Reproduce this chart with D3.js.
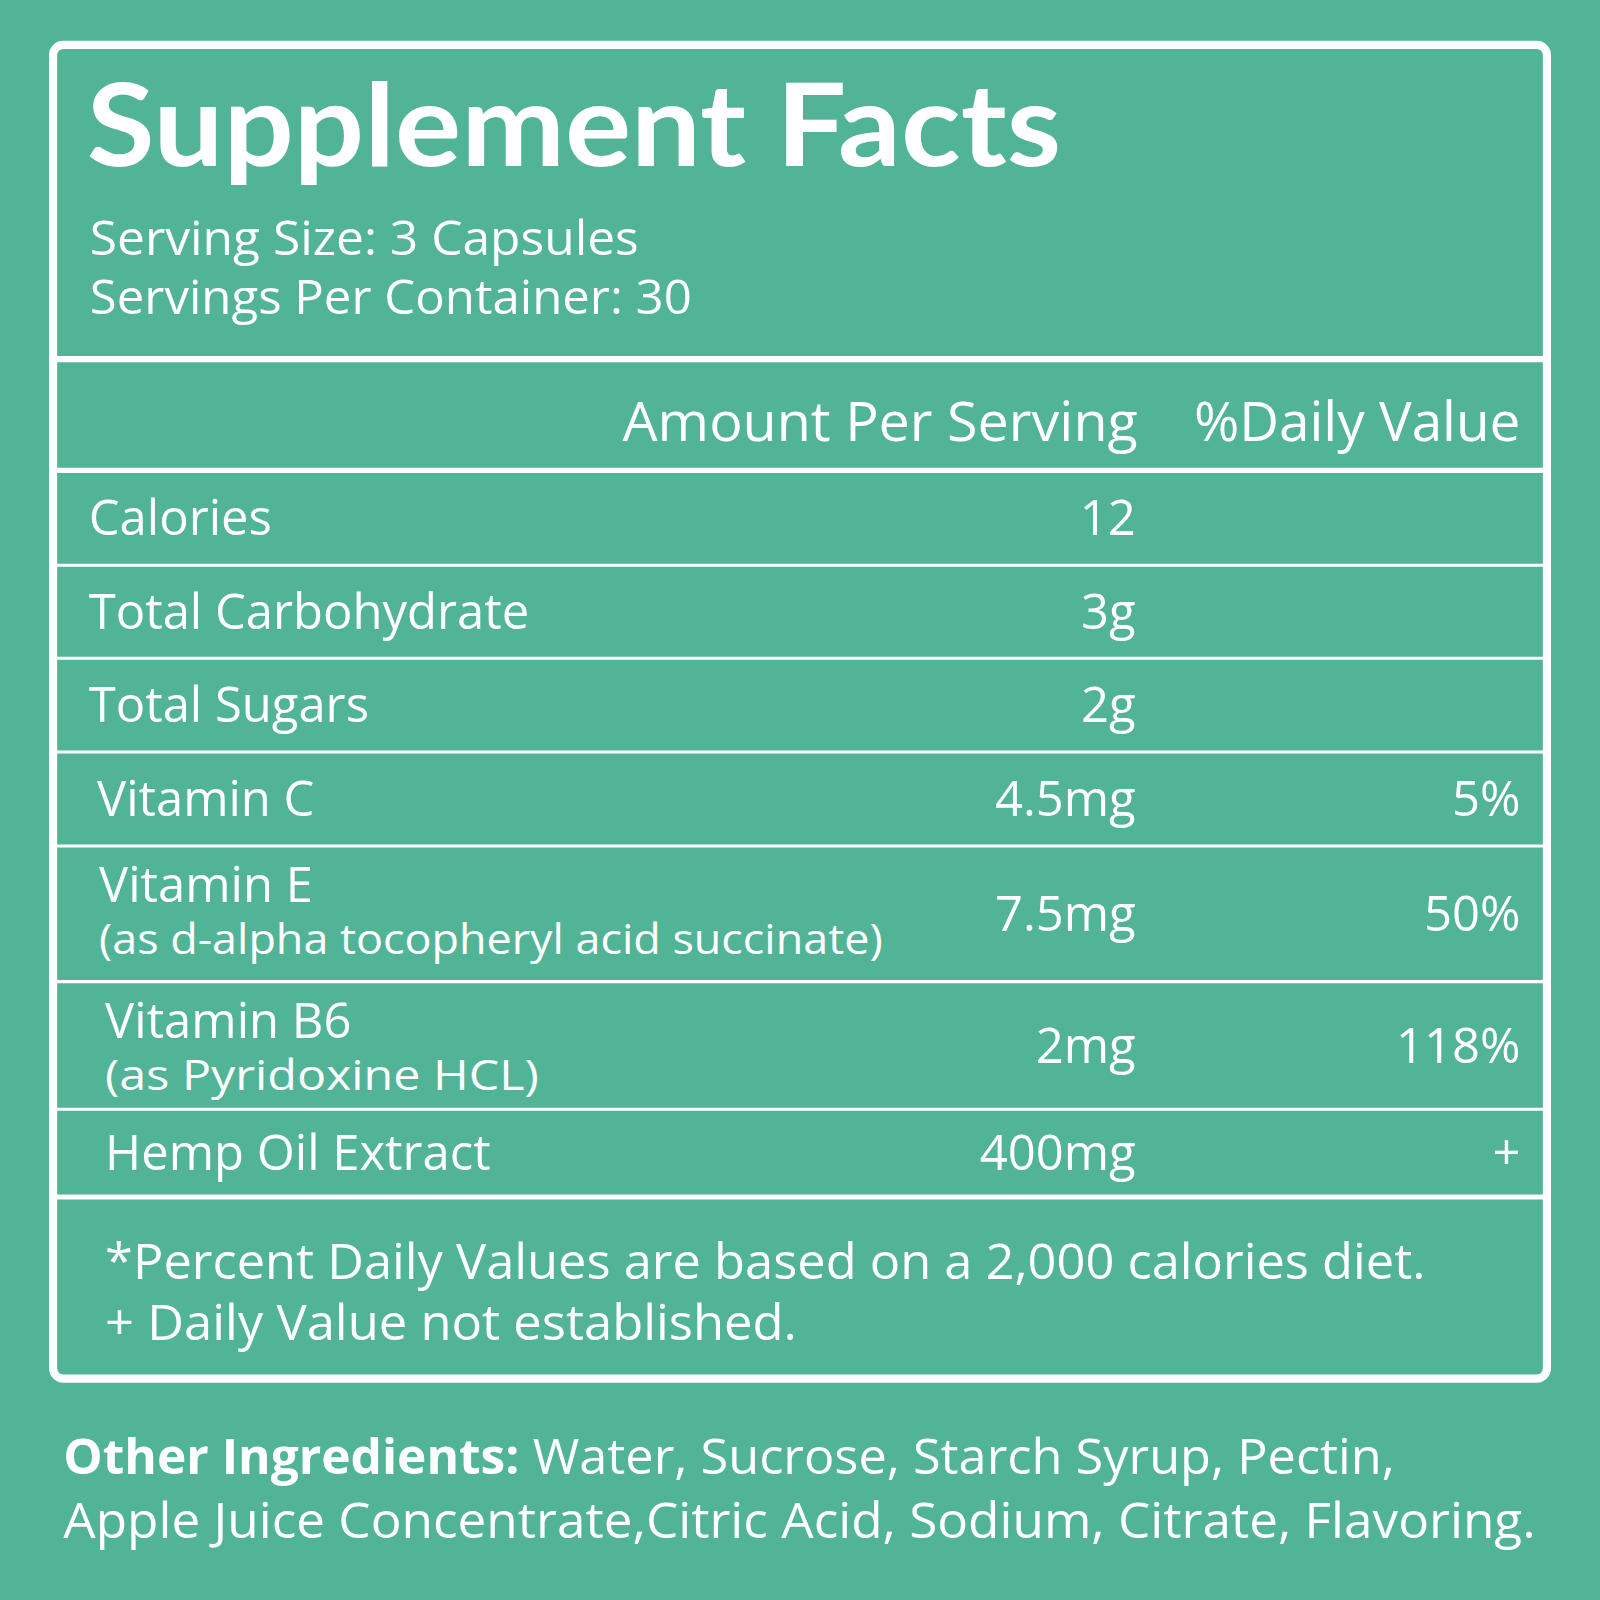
<!DOCTYPE html><html><head><meta charset="utf-8">
<script src="https://cdn.jsdelivr.net/npm/d3@7"></script>
<style>body{margin:0;background:#52b496}</style></head><body><svg id="c" width="1600" height="1600"></svg>
<script>
const names=["Calories","Total Carbohydrate","Total Sugars","Vitamin C","Vitamin E","Vitamin B6","Hemp Oil Extract"];
const subs=["","","","","(as d-alpha tocopheryl acid succinate)","(as Pyridoxine HCL)",""];
const amounts=["12","3g","2g","4.5mg","7.5mg","2mg","400mg"];
const dvs=["","","","5%","50%","118%","+"];
const rowBounds=[461,554,645,737,829,962,1087,1173];
const nameX=[87,87,87,95,97,103,103];
const svg0=d3.select("#c"),W="#fff",F="'Open Sans',Lato,sans-serif";
svg0.append("rect").attr("width",1600).attr("height",1600).attr("fill","#52b496");
const svg=svg0.append("g").attr("transform","scale("+(1600/1568)+")");
svg.append("rect").attr("x",52).attr("y",44).attr("width",1464).attr("height",1307).attr("rx",10).attr("fill","none").attr("stroke",W).attr("stroke-width",8);
const t=(x,y,s,txt,o={})=>{const e=svg.append("text").attr("x",x).attr("y",y).attr("font-size",s).attr("font-family",o.f||F).attr("font-weight",o.w||400).attr("text-anchor",o.a||"start").attr("fill",W).text(txt);
 if(o.L)e.attr("textLength",o.L).attr("lengthAdjust","spacingAndGlyphs");return e;};
t(85,163,112,"Supplement Facts",{w:700,f:"Lato,sans-serif",L:955});
t(88,250,46,"Serving Size: 3 Capsules",{L:538});
t(88,308,46,"Servings Per Container: 30",{L:590});
const hl=(y,w)=>svg.append("line").attr("x1",52).attr("x2",1516).attr("y1",y).attr("y2",y).attr("stroke",W).attr("stroke-width",w);
hl(352,6);
t(1115,432,54,"Amount Per Serving",{a:"end",L:505});
t(1490,432,54,"%Daily Value",{a:"end",L:320});
rowBounds.forEach((y,i)=>hl(y,i==0||i==rowBounds.length-1?5:3));
names.forEach((n,i)=>{
 const y0=rowBounds[i],y1=rowBounds[i+1],m=(y0+y1)/2;
 if(subs[i]){t(nameX[i],y0+55,48,n);t(nameX[i],y0+106,42,subs[i],{L:i==4?768:425});}
 else t(nameX[i],m+17,48,n);
 t(1113,m+17,48,amounts[i],{a:"end"});
 if(dvs[i])t(1490,m+17,48,dvs[i],{a:"end"});
});
t(103,1253,48,"*Percent Daily Values are based on a 2,000 calories diet.",{L:1294});
t(103,1313,48,"+ Daily Value not established.",{L:678});
t(62,1445,48,"Other Ingredients:",{w:700,L:447});
t(522,1445,48,"Water, Sucrose, Starch Syrup, Pectin,",{L:845});
t(62,1507,48,"Apple Juice Concentrate,Citric Acid, Sodium, Citrate, Flavoring.",{L:1443});
</script></body></html>
